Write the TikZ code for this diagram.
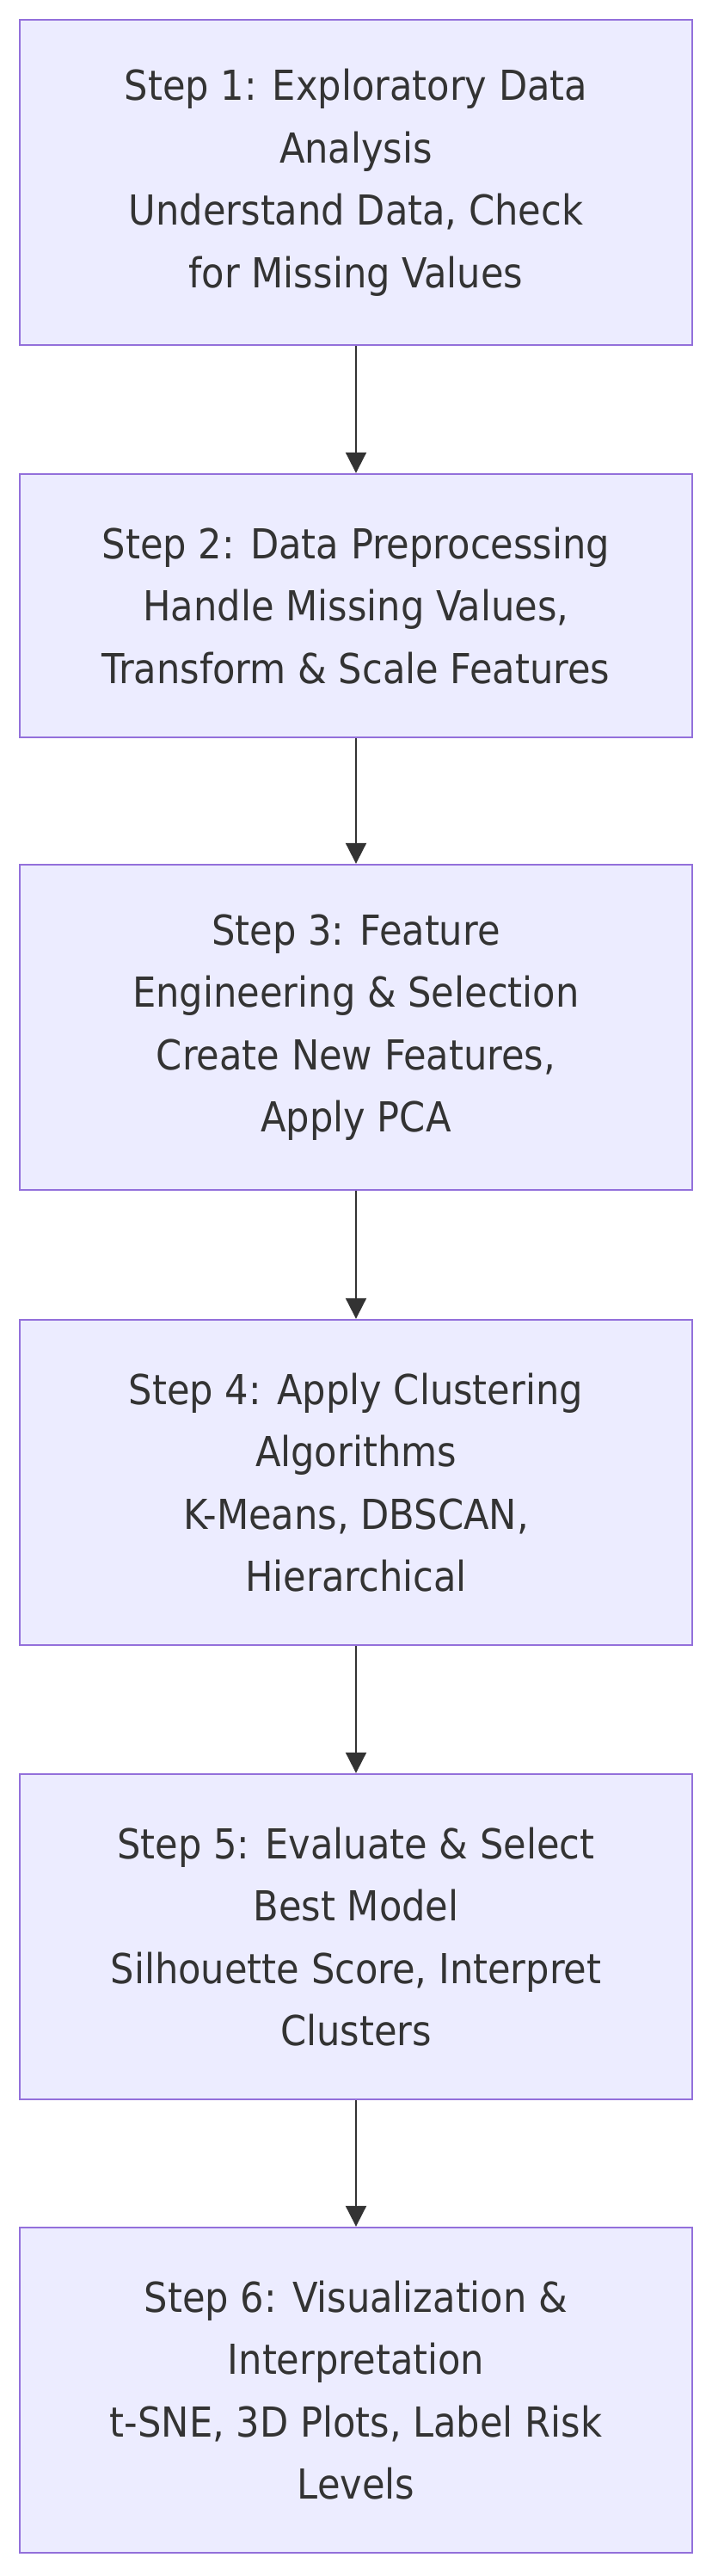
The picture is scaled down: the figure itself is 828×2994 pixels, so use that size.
\documentclass[tikz,border=0pt]{standalone}
\usepackage{fontspec}
\setmainfont{DejaVu Sans Condensed}
\usepackage{tikz}
\usetikzlibrary{arrows.meta}
\definecolor{boxfill}{HTML}{ECECFF}
\definecolor{boxline}{HTML}{9370DB}
\definecolor{inkgrey}{HTML}{333333}

\begin{document}
\begin{tikzpicture}[x=0.5pt,y=-0.5pt,
    stepbox/.style={draw=boxline,fill=boxfill,line width=1.2pt,
      minimum width=391pt,minimum height=189pt,inner sep=0pt,
      align=center,text=inkgrey,font=\fontsize{24}{36.25}\selectfont},
    flow/.style={draw=inkgrey,line width=1pt,
      -{Triangle[length=12pt,width=12pt]}}]
      \useasboundingbox (0,0) rectangle (828,2994);
      \node [stepbox] (s1) at (414,212) {Step 1: Exploratory Data\\Analysis\\Understand Data, Check\\for Missing Values};
      \node [stepbox,minimum height=153pt] (s2) at (414,704) {Step 2: Data Preprocessing\\Handle Missing Values,\\Transform \& Scale Features};
      \node [stepbox] (s3) at (414,1194) {Step 3: Feature\\Engineering \& Selection\\Create New Features,\\Apply PCA};
      \node [stepbox] (s4) at (414,1723) {Step 4: Apply Clustering\\Algorithms\\K-Means, DBSCAN,\\Hierarchical};
      \node [stepbox] (s5) at (414,2251) {Step 5: Evaluate \& Select\\Best Model\\Silhouette Score, Interpret\\Clusters};
      \node [stepbox] (s6) at (414,2778) {Step 6: Visualization \&\\Interpretation\\t-SNE, 3D Plots, Label Risk\\Levels};
      \draw [flow] (s1) -- (s2);
      \draw [flow] (s2) -- (s3);
      \draw [flow] (s3) -- (s4);
      \draw [flow] (s4) -- (s5);
      \draw [flow] (s5) -- (s6);
\end{tikzpicture}
\end{document}
